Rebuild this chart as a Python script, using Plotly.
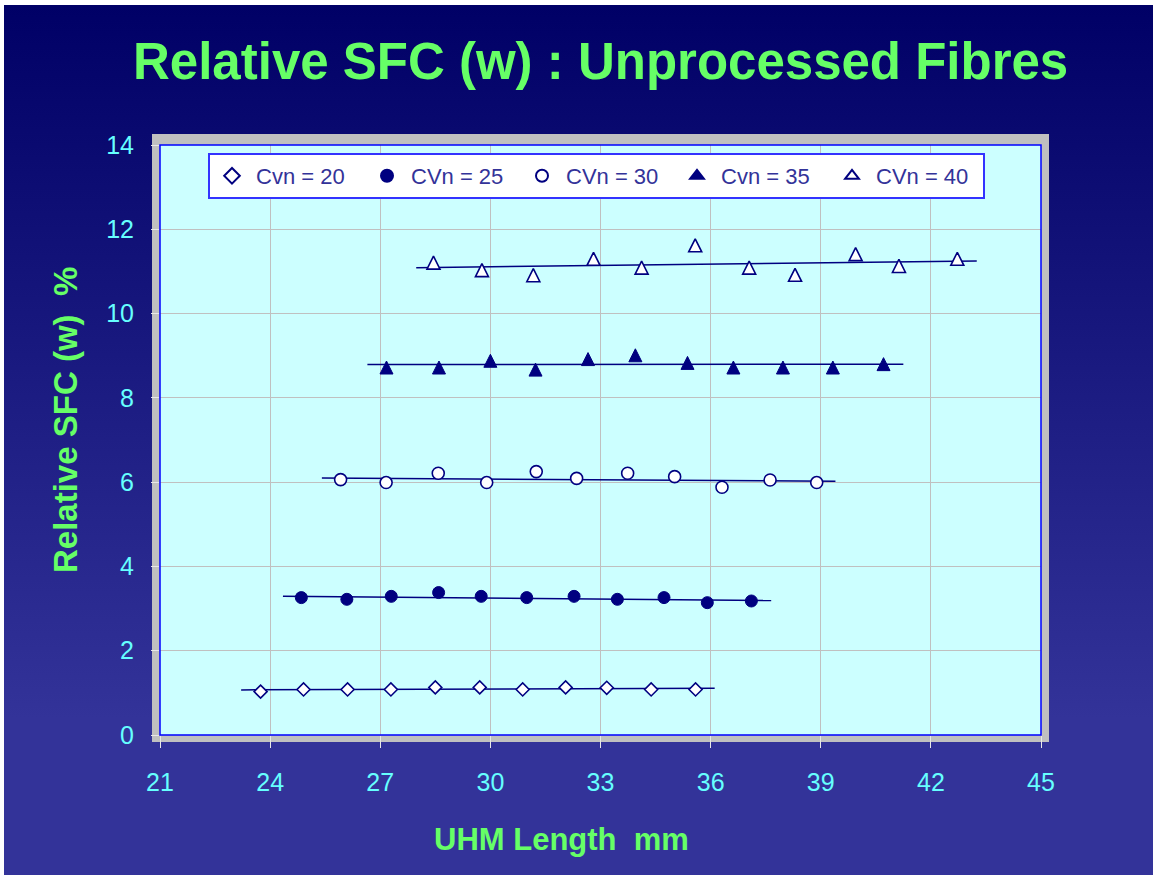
import base64
import plotly.graph_objects as go

# ---------------- data ----------------
x_cv20 = [23.74, 24.91, 26.11, 27.29, 28.50, 29.71, 30.88, 32.05, 33.17, 34.38, 35.59]
y_cv20 = [1.03, 1.08, 1.08, 1.08, 1.13, 1.13, 1.08, 1.13, 1.12, 1.08, 1.08]

x_cv25 = [24.85, 26.09, 27.30, 28.59, 29.75, 30.99, 32.28, 33.46, 34.73, 35.91, 37.11]
y_cv25 = [3.26, 3.22, 3.29, 3.38, 3.29, 3.26, 3.29, 3.22, 3.26, 3.14, 3.18]

x_cv30 = [25.92, 27.16, 28.58, 29.90, 31.25, 32.35, 33.74, 35.02, 36.31, 37.62, 38.89]
y_cv30 = [6.06, 5.99, 6.21, 5.99, 6.25, 6.09, 6.21, 6.13, 5.88, 6.05, 5.99]

x_cv35 = [27.17, 28.60, 30.00, 31.23, 32.66, 33.95, 35.37, 36.62, 37.97, 39.33, 40.71]
y_cv35 = [8.72, 8.72, 8.88, 8.67, 8.92, 9.01, 8.83, 8.72, 8.72, 8.72, 8.80]

x_cv40 = [28.45, 29.77, 31.17, 32.81, 34.12, 35.58, 37.05, 38.30, 39.95, 41.13, 42.72]
y_cv40 = [11.21, 11.03, 10.91, 11.30, 11.09, 11.62, 11.09, 10.92, 11.41, 11.13, 11.30]

# trend lines (end points)
tx_cv20 = [23.21, 36.11]; ty_cv20 = [1.07, 1.11]
tx_cv25 = [24.35, 37.65]; ty_cv25 = [3.29, 3.19]
tx_cv30 = [25.41, 39.40]; ty_cv30 = [6.10, 6.02]
tx_cv35 = [26.65, 41.25]; ty_cv35 = [8.79, 8.80]
tx_cv40 = [27.98, 43.25]; ty_cv40 = [11.09, 11.25]

series_names = ["Cvn = 20", "CVn = 25", "CVn = 30", "Cvn = 35", "CVn = 40"]
x_ticks = [21, 24, 27, 30, 33, 36, 39, 42, 45]
y_ticks = [0, 2, 4, 6, 8, 10, 12, 14]

title_text = "Relative SFC (w) : Unprocessed Fibres"
x_title = "UHM Length  mm"
y_title = "Relative SFC (w)  %"

# ---------------- layout geometry ----------------
W, H = 1153, 875
ML, MR, MT, MB = 160, 112, 145, 140
PW, PH = W - ML - MR, H - MT - MB


def px_x(p):
    return (p - ML) / PW


def px_y(p):
    return 1 - (p - MT) / PH


NAVY = "#000080"
GREEN = "#66FF66"
TICKC = "#66FFFF"
FONT = "Liberation Sans, Arial"

fig = go.Figure()

# plot markers; triangles are an arrow-down rotated 180deg and shifted by half
# their height, so that the (roughly equilateral) triangle is centred on the point
plot_markers = [
    dict(symbol="diamond", size=10, color="white", line=dict(color=NAVY, width=1.6)),
    dict(symbol="circle", size=12, color=NAVY, line=dict(color=NAVY, width=1)),
    dict(symbol="circle", size=12, color="white", line=dict(color=NAVY, width=1.6)),
    dict(symbol="arrow-down", size=13, angle=180, standoff=6.5, color=NAVY,
         line=dict(color=NAVY, width=1)),
    dict(symbol="arrow-down", size=13, angle=180, standoff=6.5, color="white",
         line=dict(color=NAVY, width=1.6)),
]
# legend symbols (None -> the plot marker itself is used in the legend)
legend_markers = [
    None, None, None,
    dict(symbol="triangle-up", size=12, color=NAVY, line=dict(color=NAVY, width=1)),
    dict(symbol="triangle-up", size=12, color="white", line=dict(color=NAVY, width=1.6)),
]

xs = [x_cv20, x_cv25, x_cv30, x_cv35, x_cv40]
ys = [y_cv20, y_cv25, y_cv30, y_cv35, y_cv40]
txs = [tx_cv20, tx_cv25, tx_cv30, tx_cv35, tx_cv40]
tys = [ty_cv20, ty_cv25, ty_cv30, ty_cv35, ty_cv40]

for tx, ty in zip(txs, tys):
    fig.add_trace(go.Scatter(x=tx, y=ty, mode="lines", showlegend=False,
                             line=dict(color=NAVY, width=1.5), hoverinfo="skip"))

for i, (name, x, y, m, lm) in enumerate(zip(series_names, xs, ys, plot_markers, legend_markers)):
    grp = "s%d" % i
    fig.add_trace(go.Scatter(x=x, y=y, mode="markers", name=name, marker=m,
                             legendgroup=grp, showlegend=lm is None))
    if lm is not None:
        fig.add_trace(go.Scatter(x=[None], y=[None], mode="markers", name=name,
                                 marker=lm, legendgroup=grp, showlegend=True,
                                 hoverinfo="skip"))

# gradient background as an inline svg image
svg = ('<svg xmlns="http://www.w3.org/2000/svg" width="1149" height="870" '
       'viewBox="0 0 1149 870" preserveAspectRatio="none">'
       '<defs><linearGradient id="g" x1="0" y1="0" x2="0" y2="1">'
       '<stop offset="0" stop-color="#000066"/>'
       '<stop offset="0.82" stop-color="#333399"/>'
       '<stop offset="1" stop-color="#333399"/>'
       '</linearGradient></defs>'
       '<rect width="1149" height="870" fill="url(#g)"/></svg>')
src = "data:image/svg+xml;base64," + base64.b64encode(svg.encode()).decode()

fig.add_layout_image(dict(source=src, xref="paper", yref="paper",
                          x=px_x(4), y=px_y(5), sizex=(W - 4) / PW, sizey=(H - 5) / PH,
                          xanchor="left", yanchor="top", sizing="stretch", layer="below"))

shapes = [
    dict(type="rect", xref="paper", yref="paper", layer="below",
         x0=px_x(152), x1=px_x(1049), y0=px_y(742), y1=px_y(134),
         fillcolor="#C0C0C0", line=dict(width=0)),
    dict(type="rect", xref="paper", yref="paper", layer="below",
         x0=0, x1=1, y0=0, y1=1, fillcolor="#CCFFFF", line=dict(width=0)),
    dict(type="rect", xref="paper", yref="paper", layer="above",
         x0=0, x1=1, y0=0, y1=1, fillcolor="rgba(0,0,0,0)",
         line=dict(color="#0000FF", width=1.5)),
]

annotations = [
    dict(text=title_text, xref="paper", yref="paper", x=px_x(600), y=px_y(61),
         xanchor="center", yanchor="middle", showarrow=False,
         font=dict(family=FONT, size=51, color=GREEN, weight="bold")),
    dict(text=x_title, xref="paper", yref="paper", x=px_x(561), y=px_y(839),
         xanchor="center", yanchor="middle", showarrow=False,
         font=dict(family=FONT, size=31, color=GREEN, weight="bold")),
    dict(text=y_title, xref="paper", yref="paper", x=px_x(65), y=px_y(420),
         xanchor="center", yanchor="middle", showarrow=False, textangle=-90,
         font=dict(family=FONT, size=33, color=GREEN, weight="bold")),
]

fig.update_layout(
    width=W, height=H, autosize=False,
    margin=dict(l=ML, r=MR, t=MT, b=MB, pad=0),
    paper_bgcolor="white", plot_bgcolor="rgba(0,0,0,0)",
    font=dict(family=FONT, color=TICKC),
    shapes=shapes, annotations=annotations,
    showlegend=True,
    legend=dict(orientation="h", x=px_x(208), y=px_y(153), xanchor="left", yanchor="top",
                bgcolor="white", bordercolor="#3333FF", borderwidth=2,
                font=dict(family=FONT, size=22, color="#333399"),
                itemwidth=38, entrywidth=102, entrywidthmode="pixels",
                itemsizing="constant"),
    xaxis=dict(range=[21, 45], tickvals=x_ticks, ticktext=[str(v) for v in x_ticks],
               showgrid=True, gridcolor="#C0C0C0", gridwidth=1, zeroline=False, showline=False,
               ticks="outside", ticklen=12, tickcolor="#E8E8E8", tickwidth=1,
               ticklabelstandoff=13,
               tickfont=dict(size=25, color=TICKC, family=FONT)),
    yaxis=dict(range=[0, 14], tickvals=y_ticks, ticktext=[str(v) for v in y_ticks],
               showgrid=True, gridcolor="#C0C0C0", gridwidth=1, zeroline=False, showline=False,
               ticks="outside", ticklen=8, tickcolor="#E8E8E8", tickwidth=1,
               ticklabelstandoff=12,
               tickfont=dict(size=25, color=TICKC, family=FONT)),
)

fig.write_html("out.html")
